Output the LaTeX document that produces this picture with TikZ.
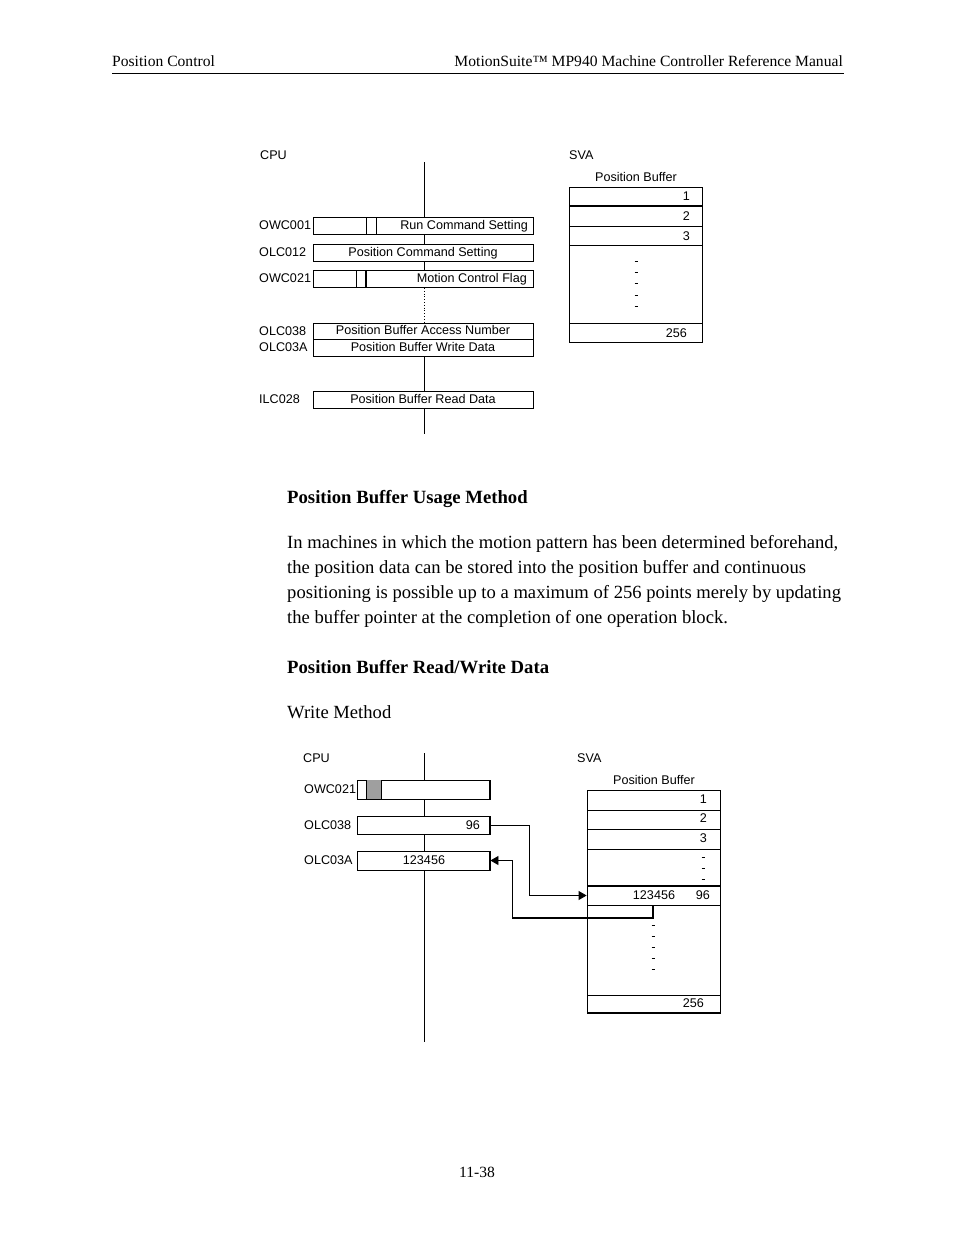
\documentclass[tikz,border=0pt]{standalone}
\usepackage{fontspec}
\setmainfont{Liberation Serif}
\newfontfamily\diag{Liberation Sans}
\usetikzlibrary{arrows.meta}
\begin{document}
\begin{tikzpicture}[x=1pt,y=-1pt,
  lbl/.style={font=\diag\fontsize{12.6}{14}\selectfont, inner sep=0pt},
  body/.style={font=\fontsize{18.6}{23}\selectfont, inner sep=0pt, anchor=base west},
  head/.style={font=\bfseries\fontsize{18.7}{23}\selectfont, inner sep=0pt, anchor=base west},
  hdr/.style={font=\fontsize{15.6}{18}\selectfont, inner sep=0pt},
  regbox/.style={draw, fill=white, line width=0.8pt, inner sep=0pt},
  cell/.style={draw, line width=0.8pt, inner sep=0pt, minimum width=133pt},
  dashmark/.style={line width=0.8pt},
  conn/.style={line width=0.8pt},
  tip/.style={-{Triangle[length=8pt,width=9pt]}}]
\useasboundingbox (0,0) rectangle (954,1235);

% ---------- header / footer ----------
\node[hdr, anchor=base west] (hl) at (112,66) {Position Control};
\node[hdr, anchor=base east] (hr) at (843,66) {MotionSuite™ MP940 Machine Controller Reference Manual};
\draw[line width=1pt] (112,73) -- (844,73);
\node[hdr, anchor=base] (foot) at (477,1177) {11-38};

% ---------- top diagram ----------
\node[lbl, anchor=base west] (cpu1) at (260,159) {CPU};
\node[lbl, anchor=base west] (sva1) at (569,159) {SVA};
\draw[line width=0.8pt] (424,162) -- (424,288);
\draw[line width=0.8pt, dotted] (424,288) -- (424,322);
\draw[line width=0.8pt] (424,322) -- (424,434);

\node[regbox, minimum width=220pt, minimum height=17pt] (owc001) at (423,225.5) {};
\draw[line width=0.8pt] (366,217) -- (366,234) (376,217) -- (376,234);
\node[lbl, anchor=base east] (t1) at (528,229) {Run Command Setting};
\node[lbl, anchor=base west] (l1) at (259,229.3) {OWC001};

\node[regbox, minimum width=220pt, minimum height=17pt] (olc012) at (423,252.5) {};
\node[lbl, anchor=base] (t2) at (423,256) {Position Command Setting};
\node[lbl, anchor=base west] (l2) at (259,256.3) {OLC012};

\node[regbox, minimum width=220pt, minimum height=17pt] (owc021) at (423,278.5) {};
\draw[line width=0.8pt] (356,270) -- (356,287);
\draw[line width=1.5pt] (366,270) -- (366,287);
\node[lbl, anchor=base east] (t3) at (527,282) {Motion Control Flag};
\node[lbl, anchor=base west] (l3) at (259,282.3) {OWC021};

\node[regbox, minimum width=220pt, minimum height=16.5pt] (olc038) at (423,331.2) {};
\node[lbl, anchor=base] (t4) at (423,334.7) {Position Buffer Access Number};
\node[lbl, anchor=base west] (l4) at (259,335.3) {OLC038};

\node[regbox, minimum width=220pt, minimum height=16.5pt] (olc03a) at (423,347.7) {};
\node[lbl, anchor=base] (t5) at (423,351.2) {Position Buffer Write Data};
\node[lbl, anchor=base west] (l5) at (259,351.8) {OLC03A};

\node[regbox, minimum width=220pt, minimum height=17pt] (ilc028) at (423,399.5) {};
\node[lbl, anchor=base] (t6) at (423,403.2) {Position Buffer Read Data};
\node[lbl, anchor=base west] (l6) at (259,403.3) {ILC028};

% top position buffer
\node[lbl, anchor=base] (pb1) at (636,181) {Position Buffer};
\draw[line width=0.8pt] (569,187) rectangle (702,342);
\draw[line width=1.6pt] (569,206) -- (702,206);
\draw[line width=0.8pt] (569,226) -- (702,226) (569,245) -- (702,245) (569,323) -- (702,323);
\node[lbl, anchor=base east] (n1) at (690,200.5) {1};
\node[lbl, anchor=base east] (n2) at (690,220.5) {2};
\node[lbl, anchor=base east] (n3) at (690,240.5) {3};
\node[lbl, anchor=base east] (n256) at (687,337) {256};
\foreach \yy in {261,272,283,295,306} \draw[dashmark] (634.5,\yy) -- (637.5,\yy);

% ---------- text ----------
\node[head] (h1) at (287,503) {Position Buffer Usage Method};
\node[body] (p1) at (287,548) {In machines in which the motion pattern has been determined beforehand,};
\node[body] (p2) at (287,573) {the position data can be stored into the position buffer and continuous};
\node[body] (p3) at (287,598) {positioning is possible up to a maximum of 256 points merely by updating};
\node[body] (p4) at (287,623) {the buffer pointer at the completion of one operation block.};
\node[head] (h2) at (287,673) {Position Buffer Read/Write Data};
\node[body] (wm) at (287,718) {Write Method};

% ---------- bottom diagram ----------
\node[lbl, anchor=base west] (cpu2) at (303,762) {CPU};
\node[lbl, anchor=base west] (sva2) at (577,762) {SVA};
\draw[line width=0.8pt] (424,753) -- (424,1042);

\node[regbox, minimum width=133pt, minimum height=19pt] (bowc021) at (423.5,789.5) {};
\fill[gray!75] (366,780) rectangle (381,799);
\draw[line width=0.8pt] (366,780) -- (366,799) (381,780) -- (381,799);
\draw[line width=1.6pt] (490,780) -- (490,799);
\node[lbl, anchor=base west] (bl1) at (304,793.3) {OWC021};

\node[regbox, minimum width=133pt, minimum height=18pt] (bolc038) at (423.5,825) {};
\draw[line width=1.6pt] (490,816) -- (490,834);
\node[lbl, anchor=base east] (b96) at (480,829) {96};
\node[lbl, anchor=base west] (bl2) at (304,829.3) {OLC038};

\node[regbox, minimum width=133pt, minimum height=19pt] (bolc03a) at (423.5,860.5) {};
\draw[line width=1.6pt] (490,851) -- (490,870);
\node[lbl, anchor=base] (b123) at (424,864.5) {123456};
\node[lbl, anchor=base west] (bl3) at (304,864.8) {OLC03A};

% bottom position buffer
\node[lbl, anchor=base] (pb2) at (654,784) {Position Buffer};
\node[cell, minimum height=20pt] (r1) at (653.5,800) {};
\node[cell, minimum height=19pt] (r2) at (653.5,819.5) {};
\node[cell, minimum height=20pt] (r3) at (653.5,839) {};
\node[cell, minimum height=37pt] (rd1) at (653.5,867.5) {};
\node[cell, minimum height=19pt] (r96) at (653.5,895.5) {};
\node[cell, minimum height=90pt] (rd2) at (653.5,950) {};
\node[cell, minimum height=18pt] (r256) at (653.5,1004) {};
\draw[line width=1.6pt] (587,886) -- (720,886);
\draw[line width=1.6pt] (587,1013) -- (720,1013);
\node[lbl, anchor=base east] (m1) at (707,803.5) {1};
\node[lbl, anchor=base east] (m2) at (707,822.5) {2};
\node[lbl, anchor=base east] (m3) at (707,842.5) {3};
\foreach \yy in {857,868,879} \draw[dashmark] (701.5,\yy) -- (704.5,\yy);
\node[lbl, anchor=base] (m123) at (654,899.5) {123456};
\node[lbl, anchor=base east] (m96) at (710,899.5) {96};
\foreach \yy in {925,936,947,958,969} \draw[dashmark] (651.5,\yy) -- (654.5,\yy);
\node[lbl, anchor=base east] (m256) at (704,1007.5) {256};

% connectors
\coordinate (wa) at (529,825);
\coordinate (wb) at (529,895.5);
\draw[conn, tip] (bolc038.east) -- (wa) -- (wb) -- (r96.west);
\coordinate (rs) at (653,905);
\coordinate (ra) at (653,918);
\coordinate (rb) at (512,918);
\coordinate (rc) at (512,860.5);
\draw[line width=1.6pt] (rs) -- (ra) -- (rb);
\draw[conn, tip] (rb) -- (rc) -- (bolc03a.east);
\end{tikzpicture}
\end{document}
